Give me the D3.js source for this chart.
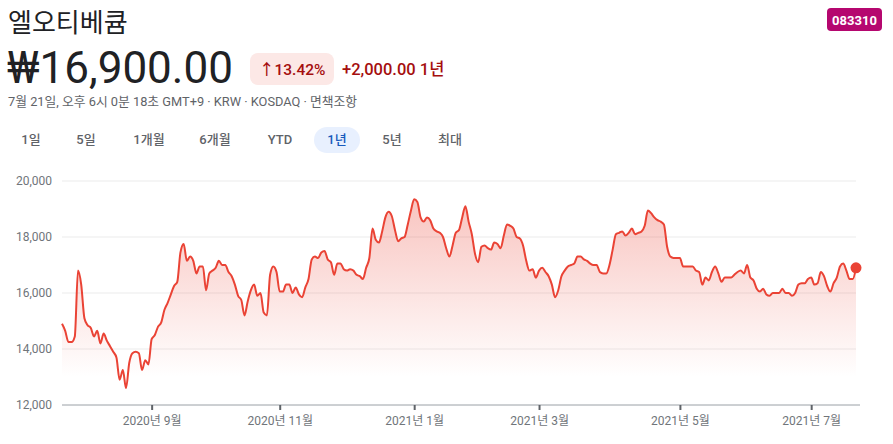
<!DOCTYPE html>
<html>
<head>
<meta charset="utf-8">
<script src="https://cdn.jsdelivr.net/npm/d3@7"></script>
<style>
  body { margin: 0; background: #fff; }
  svg { font-family: Roboto, "Noto Sans CJK KR", sans-serif; }
</style>
</head>
<body>
<div id="chart"></div>
<script>
// closing prices, one per trading day (2020-07-21 .. 2021-07-21)
var prices = [
  14900, 14650, 14250, 14250, 14450, 16800, 16300, 15100, 14850, 14750,
  14450, 14650, 14200, 14550, 14300, 14100, 13900, 13700, 12900, 13250,
  12600, 13500, 13850, 13900, 13850, 13250, 13600, 13450, 14350, 14500,
  14800, 14950, 15400, 15650, 15950, 16250, 16400, 17450, 17750, 17150,
  17300, 17150, 16700, 16950, 16950, 16100, 16700, 16800, 16900, 17150,
  17000, 17000, 16750, 16600, 16300, 15900, 15750, 15200, 15700, 16100,
  16300, 15900, 16000, 15300, 15200, 16650, 16950, 16750, 16050, 16050,
  16300, 16300, 16000, 16200, 15950, 15850, 16200, 16500, 17200, 17300,
  17250, 17450, 17500, 17200, 17100, 16650, 17050, 17050, 16850, 16800,
  16850, 16800, 16650, 16600, 16500, 16900, 17250, 18300, 17900, 17800,
  18200, 18700, 18900, 18750, 18250, 17850, 17950, 18000, 18450, 18950,
  19350, 19250, 18700, 18550, 18700, 18600, 18300, 18200, 18150, 18000,
  17600, 17300, 17700, 18150, 18250, 18700, 19100, 18550, 18100, 17400,
  17100, 17650, 17700, 17600, 17550, 17800, 17750, 17600, 18050, 18450,
  18400, 18300, 18000, 17950, 17700, 17150, 16800, 16850, 16550, 16800,
  16900, 16750, 16600, 16300, 15850, 16100, 16600, 16800, 16950, 17000,
  17050, 17300, 17300, 17200, 17150, 17050, 17000, 17000, 16750, 16700,
  16700, 17000, 17550, 18100, 18150, 18200, 18050, 18150, 18300, 18100,
  18150, 18200, 18400, 18950, 18850, 18700, 18600, 18550, 18450, 17650,
  17300, 17250, 17250, 17250, 16950, 16950, 16950, 16950, 16800, 16750,
  16300, 16550, 16450, 16750, 16950, 16700, 16400, 16550, 16550, 16550,
  16650, 16750, 16800, 16700, 17000, 16550, 16450, 16150, 16050, 16150,
  15950, 15900, 16000, 16000, 16000, 16150, 16000, 16000, 15900, 16000,
  16300, 16350, 16350, 16500, 16550, 16300, 16350, 16750, 16600, 16250,
  16050, 16350, 16550, 16950, 17050, 16800, 16500, 16500, 16900
];
var yTicks = [12000, 14000, 16000, 18000, 20000];
var xTickDays = [28, 68, 110, 149, 193, 234];
var xTickLabels = ["2020년 9월", "2020년 11월", "2021년 1월", "2021년 3월", "2021년 5월", "2021년 7월"];
var ranges = ["1일", "5일", "1개월", "6개월", "YTD", "1년", "5년", "최대"];
var selectedRange = "1년";

var w = 893, h = 444;
var margin = { top: 181, bottom: 39, left: 62, right: 37 };

var svg = d3.select("#chart").append("svg")
    .attr("width", w)
    .attr("height", h);

// header
svg.append("text")
    .attr("x", 8).attr("y", 32)
    .attr("font-size", 26)
    .attr("fill", "#202124")
    .text("엘오티베큠");

svg.append("rect")
    .attr("x", 827).attr("y", 8).attr("width", 55).attr("height", 23)
    .attr("rx", 4).attr("fill", "#b5076f");
svg.append("text")
    .attr("x", 854.5).attr("y", 24.5)
    .attr("text-anchor", "middle")
    .attr("font-size", 13).attr("font-weight", "bold")
    .attr("fill", "#fff")
    .text("083310");

svg.append("text")
    .attr("x", 7).attr("y", 83)
    .attr("font-size", 44)
    .attr("fill", "#202124")
    .text("₩16,900.00");

svg.append("rect")
    .attr("x", 250).attr("y", 53).attr("width", 84).attr("height", 32)
    .attr("rx", 8).attr("fill", "#fce8e6");
svg.append("text")
    .attr("x", 259).attr("y", 75)
    .attr("font-size", 15.5).attr("font-weight", 500)
    .attr("fill", "#a50e0e")
    .text("↑13.42%");
svg.append("text")
    .attr("x", 342).attr("y", 75)
    .attr("font-size", 16.5).attr("font-weight", 500)
    .attr("fill", "#a50e0e")
    .text("+2,000.00 1년");

svg.append("text")
    .attr("x", 8).attr("y", 106)
    .attr("font-size", 12.8)
    .attr("fill", "#5f6368")
    .text("7월 21일, 오후 6시 0분 18초 GMT+9 · KRW · KOSDAQ · 면책조항");

// range tabs
var tabX = [31, 86, 149, 215, 280, 337, 392, 450];
ranges.forEach(function(r, i) {
    if (r === selectedRange) {
        svg.append("rect")
            .attr("x", tabX[i] - 23).attr("y", 127)
            .attr("width", 46).attr("height", 26)
            .attr("rx", 13).attr("fill", "#e8f0fe");
    }
    svg.append("text")
        .attr("x", tabX[i]).attr("y", 144)
        .attr("text-anchor", "middle")
        .attr("font-size", 13).attr("font-weight", 500)
        .attr("fill", r === selectedRange ? "#185abc" : "#5f6368")
        .text(r);
});

// chart
var x = d3.scaleLinear()
    .domain([0, prices.length - 1])
    .range([margin.left, w - margin.right]);

var y = d3.scaleLinear()
    .domain([12000, 20000])
    .range([h - margin.bottom, margin.top]);

var defs = svg.append("defs");
var grad = defs.append("linearGradient")
    .attr("id", "fillGrad")
    .attr("gradientUnits", "userSpaceOnUse")
    .attr("x1", 0).attr("x2", 0)
    .attr("y1", y(19500)).attr("y2", y(13000));
grad.append("stop").attr("offset", 0).attr("stop-color", "#ea4335").attr("stop-opacity", 0.32);
grad.append("stop").attr("offset", 1).attr("stop-color", "#ea4335").attr("stop-opacity", 0);

// gridlines
svg.append("g")
    .selectAll("line")
    .data(yTicks.slice(1))
    .enter()
    .append("line")
    .attr("x1", margin.left).attr("x2", x(prices.length - 1))
    .attr("y1", function(d) { return y(d); })
    .attr("y2", function(d) { return y(d); })
    .attr("stroke", "#ebebeb");

var yAxis = d3.axisLeft(y)
    .tickValues(yTicks)
    .tickSize(0)
    .tickPadding(10)
    .tickFormat(d3.format(","));
svg.append("g")
    .attr("transform", "translate(" + margin.left + ",0)")
    .call(yAxis)
    .call(function(g) { g.select(".domain").remove(); })
    .selectAll("text")
    .attr("font-size", 12)
    .attr("font-family", "Roboto, sans-serif")
    .attr("fill", "#70757a");

var area = d3.area()
    .x(function(d, i) { return x(i); })
    .y0(y(12000))
    .y1(function(d) { return y(d); })
    .curve(d3.curveMonotoneX);

svg.append("path")
    .datum(prices)
    .attr("d", area)
    .attr("fill", "url(#fillGrad)");

// baseline + x axis
var xAxis = d3.axisBottom(x)
    .tickValues(xTickDays)
    .tickSize(5)
    .tickPadding(6)
    .tickFormat(function(d, i) { return xTickLabels[i]; });
var xg = svg.append("g")
    .attr("transform", "translate(0," + y(12000) + ")")
    .call(xAxis);
xg.select(".domain")
    .attr("d", "M" + margin.left + ",0H" + (w - 33))
    .attr("stroke", "#9aa0a6");
xg.selectAll(".tick line")
    .attr("stroke", "#5f6368")
    .attr("stroke-width", 2);
xg.selectAll(".tick text")
    .attr("font-size", 12)
    .attr("font-family", "Roboto, 'Noto Sans CJK KR', sans-serif")
    .attr("fill", "#70757a");

var line = d3.line()
    .x(function(d, i) { return x(i); })
    .y(function(d) { return y(d); })
    .curve(d3.curveMonotoneX);

svg.append("path")
    .datum(prices)
    .attr("d", line)
    .attr("fill", "none")
    .attr("stroke", "#ea4335")
    .attr("stroke-width", 2);

svg.append("circle")
    .attr("cx", x(prices.length - 1))
    .attr("cy", y(prices[prices.length - 1]))
    .attr("r", 5.5)
    .attr("fill", "#ea4335");
</script>
</body>
</html>
